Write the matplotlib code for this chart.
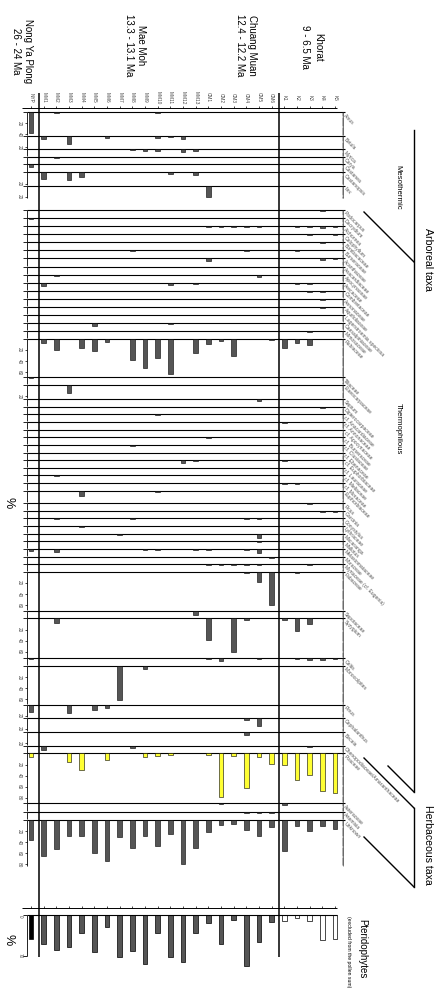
import numpy as np
import matplotlib.pyplot as plt

plt.rcParams['font.family'] = ['Liberation Sans', 'DejaVu Sans']

W, H = 441, 988

# samples (columns) and site headers
SAMPLES = (['NYP'] + ['MM%d' % i for i in range(1, 14)]
           + ['CM%d' % i for i in range(1, 7)] + ['K%d' % i for i in range(1, 6)])
SITES = ['Nong Ya Plong\n26 - 24 Ma', 'Mae Moh\n13.3 - 13.1 Ma',
         'Chuang Muan\n12.4 - 12.2 Ma', 'Khorat\n9 - 6.5 Ma']

# percentages (only non-zero samples listed)
MESO_TAXA = ['Alnus', 'Betula', 'Myrica', 'Carya', 'Castanea', 'Castanopsis', 'Ilex']
MESO_VALUES = [
    {'NYP': 37, 'MM2': 1, 'MM10': 1.5},
    {'MM1': 6, 'MM3': 14, 'MM6': 2.5, 'MM10': 4, 'MM11': 1, 'MM12': 6},
    {'MM8': 1, 'MM9': 2.5, 'MM10': 2.5, 'MM12': 5, 'MM13': 2.5},
    {'MM2': 2},
    {'NYP': 4},
    {'MM1': 11, 'MM3': 14, 'MM4': 8, 'MM11': 3, 'MM13': 5},
    {'CM1': 20, 'K4': 1},
]

THERMO_TAXA = [
    'Podocarpus', 'Dacrydium', 'Alchornea', 'Calophyllum', 'Bombacaceae',
    'Burseraceae', 'Acanthaceae', 'Anacardiaceae', 'Apocynaceae', 'Arecaceae',
    'Combretaceae', 'Annonaceae', 'Aquifoliaceae', 'Lagerstroemia speciosa',
    'Caesalpiniaceae', 'Mimosaceae', 'Rubiaceae', 'Tiliaceae', 'Elaeocarpaceae',
    'Sapium', 'Dipterocarpaceae', 'cf. Anacardiaceae', 'cf. Annonaceae',
    'cf. Apocynaceae', 'cf. Burseraceae', 'cf. Clusiaceae', 'cf. Ebenaceae',
    'cf. Euphorbiaceae', 'cf. Lauraceae', 'cf. Meliaceae', 'cf. Moraceae',
    'Euphorbiaceae', 'Ficus', 'Garcinia', 'Gonystylus', 'Lythraceae',
    'Macaranga', 'Mallotus', 'Melastomataceae', 'Moraceae',
    'Myrtaceae (cf. Eugenia)', 'Fabaceae', 'Sapotaceae', 'Syzygium', 'Celtis',
    'Monocolpites', 'Pinus', 'Cephalanthus', 'Becaia',
]
THERMO_VALUES = [
    {'K4': 1.5},
    {'NYP': 1.5},
    {'CM1': 0.5, 'CM2': 0.5, 'CM3': 0.5, 'CM4': 0.5, 'CM5': 2, 'K2': 0.5, 'K3': 0.5, 'K4': 2.5, 'K5': 2},
    {'K3': 1.5, 'K5': 1.5},
    {'K4': 1.5},
    {'MM8': 1.5, 'CM4': 1.5, 'K2': 1},
    {'CM1': 5, 'K4': 2, 'K5': 1},
    {'MM2': 1.5, 'CM1': 0.5, 'K3': 0.5},
    {'MM2': 2, 'MM4': 1, 'MM8': 1.5, 'MM9': 1, 'CM4': 0.5, 'CM5': 3.5},
    {'MM1': 6.5, 'MM2': 1.5, 'MM11': 3.5, 'MM13': 3, 'CM1': 0.5, 'CM2': 0.5, 'CM3': 0.5,
     'K1': 1.5, 'K2': 2, 'K3': 3},
    {'K3': 1.5, 'K4': 1.5},
    {'K4': 1.5},
    {'K4': 1.5},
    {'CM3': 1},
    {'MM4': 0.5, 'MM5': 6, 'MM11': 1.5, 'CM1': 0.5, 'K1': 0.5, 'K3': 0.5},
    {'K3': 2},
    {'MM1': 6.5, 'MM2': 20, 'MM4': 17, 'MM5': 22, 'MM6': 5.5, 'MM8': 38, 'MM9': 53,
     'MM10': 34, 'MM11': 64, 'MM13': 25, 'CM1': 9, 'CM2': 3, 'CM3': 30, 'CM6': 2,
     'K1': 17, 'K2': 7, 'K3': 11},
    {'NYP': 1.5},
    {'MM3': 15},
    {'MM9': 0.5, 'CM5': 3.5},
    {'K4': 2},
    {'MM10': 1.5},
    {'K1': 1.5},
    {'K4': 1.5},
    {'CM1': 1},
    {'MM8': 1.5},
    {'K2': 0.5, 'K3': 1.5},
    {'MM12': 5, 'MM13': 1.5, 'K1': 1.5},
    {'MM4': 1},
    {'MM2': 1.5},
    {'K1': 1.5, 'K2': 1.5},
    {'MM4': 10, 'MM10': 2, 'CM1': 0.5, 'CM2': 0.5, 'K3': 0.5, 'K4': 0.5},
    {'K3': 1.5},
    {'K4': 1.5, 'K5': 1.5},
    {'MM2': 1.5, 'MM8': 1.5, 'CM4': 1, 'CM5': 1.5},
    {'MM4': 1},
    {'MM2': 1.5, 'MM7': 2, 'MM10': 1.5, 'MM11': 1, 'CM4': 1.5, 'CM5': 8, 'CM6': 1, 'K3': 1.5},
    {'CM5': 1.5},
    {'NYP': 4, 'MM2': 5, 'MM9': 1, 'MM10': 1.5, 'MM13': 1.5, 'CM1': 1, 'CM4': 1.5, 'CM5': 8},
    {'CM6': 3},
    {'CM1': 0.5, 'CM2': 0.5, 'CM3': 0.5, 'CM4': 0.5, 'CM5': 1.5, 'K3': 0.5},
    {'CM4': 2.5, 'CM5': 19, 'CM6': 59, 'K2': 1},
    {'MM8': 1, 'MM9': 1, 'MM13': 8, 'CM1': 1},
    {'MM2': 8.5, 'CM1': 38, 'CM3': 61, 'CM4': 2.5, 'K1': 2, 'K2': 22, 'K3': 10},
    {'NYP': 0.5, 'CM1': 0.5, 'CM2': 5.5, 'CM5': 0.5, 'K2': 0.5, 'K3': 2, 'K4': 2, 'K5': 1.5},
    {'MM7': 62, 'MM9': 5},
    {'NYP': 12.5, 'MM3': 14.5, 'MM5': 8.5, 'MM6': 5.5},
    {'CM4': 4, 'CM5': 15},
    {'CM4': 5, 'CM6': 0.5},
]

HERB_TAXA = ['Chenopodiaceae/Amaranthaceae', 'Poaceae', 'Asteraceae', 'Artemisia', 'Unknown']
HERB_VALUES = [
    {'MM1': 7, 'MM8': 3, 'K3': 1.5},
    {'NYP': 6, 'MM3': 15.5, 'MM4': 30.5, 'MM6': 11, 'MM9': 6, 'MM10': 5, 'MM11': 2.5,
     'CM1': 3, 'CM2': 78, 'CM3': 5, 'CM4': 62.5, 'CM5': 6, 'CM6': 19, 'K1': 21.5,
     'K2': 48.5, 'K3': 39.5, 'K4': 67, 'K5': 71.5},
    {'CM2': 0.5, 'K1': 2},
    {'CM2': 0.5, 'CM3': 0.5, 'CM4': 2, 'CM5': 2, 'CM6': 2},
    {'NYP': 35, 'MM1': 64, 'MM2': 52, 'MM3': 29, 'MM4': 29, 'MM5': 59, 'MM6': 74,
     'MM7': 31, 'MM8': 50, 'MM9': 29, 'MM10': 47, 'MM11': 25, 'MM12': 80, 'MM13': 50,
     'CM1': 22, 'CM2': 9, 'CM3': 6.5, 'CM4': 18.5, 'CM5': 29, 'CM6': 12.5, 'K1': 55,
     'K2': 11, 'K3': 20, 'K4': 11, 'K5': 16},
]

# pteridophytes, one value per sample
PTERIDO = [41.5, 50, 60, 54, 31, 64, 21, 72, 61, 84, 30, 72, 81, 31,
           14, 49.5, 9, 87, 46, 12, 10, 5.7, 11, 43, 41]

# ---- layout (pixels / percent units) ----
X0, DX = 31, 12.67            # pixel of first sample, spacing
LEFT, RIGHT = 27, 343          # panel edges in px
TOP = 112.3
PXPCT = 0.555
MESO_SPAN = [43, 24, 13.3, 13.7, 14.4, 24, 24]
GAP = 20
THERMO_SPAN = ([14.5] * 16 + [69, 14, 25] + [13.8] * 12 + [22] + [13.8] * 9
               + [70, 13.8, 72, 13.8, 70, 23, 26, 25])
HERB_SPAN = [13.5, 90, 15, 15, 84]

BAR = '#555555'
POACEAE = '#ffff33'

fig = plt.figure(figsize=(W / 100, H / 100), dpi=100)
ov = fig.add_axes([0, 0, 1, 1])
ov.set_xlim(0, W)
ov.set_ylim(H, 0)
ov.axis('off')


def px_axes(x0, y0, x1, y1):
    a = fig.add_axes([x0 / W, 1 - y1 / H, (x1 - x0) / W, (y1 - y0) / H])
    a.axis('off')
    return a


# build row list
rows = []
pos = 0.0
for name, vals, span in zip(MESO_TAXA, MESO_VALUES, MESO_SPAN):
    rows.append((name, vals, span, pos))
    pos += span
pos += GAP
for name, vals, span in zip(THERMO_TAXA, THERMO_VALUES, THERMO_SPAN):
    rows.append((name, vals, span, pos))
    pos += span
for name, vals, span in zip(HERB_TAXA, HERB_VALUES, HERB_SPAN):
    rows.append((name, vals, span, pos))
    pos += span
total = pos

ax = px_axes(LEFT, TOP, RIGHT, TOP + total * PXPCT)
xl, xr = (LEFT - X0) / DX, (RIGHT - X0) / DX
ax.set_xlim(xl, xr)
ax.set_ylim(total, 0)

lab_kw = dict(fontsize=3.4, color='#444444', rotation=-90, ha='center', va='center', clip_on=False)

for name, vals, span, top in rows:
    ax.hlines(top, xl, xr + 0.15, color='k', lw=0.8, clip_on=False)
    bot = top + span - 1.2
    ax.vlines(xl, top, bot, color='k', lw=0.6, clip_on=False)
    ax.hlines(top, xl - 0.35, xl, color='k', lw=0.6, clip_on=False)
    for t in range(20, int(span) - 2, 20):
        ax.hlines(top + t, xl - 0.15, xl, color='k', lw=0.5, clip_on=False)
        ax.text(xl - 0.62, top + t, str(t), **lab_kw)
    ax.vlines(xr, top, bot, color='#333333', lw=0.4, clip_on=False)
    tk = np.arange(top + 1.5, bot, 2.0)
    ax.plot(np.full(len(tk), xr), tk, ls='none', marker='_', ms=1.6, mew=0.3,
            color='#333333', clip_on=False)
    ax.text(xr + 0.25, top + 1.2, name, rotation=-45, rotation_mode='anchor',
            ha='left', va='top', fontsize=3.6, color='#555555', clip_on=False)
    xs = [SAMPLES.index(k) for k in vals]
    hs = list(vals.values())
    ax.bar(xs, hs, bottom=top, width=0.36, color=POACEAE if name == 'Poaceae' else BAR,
           edgecolor='k', lw=0.4, clip_on=False, zorder=3)

# sample axis above the diagram
samp_y = (108.3 - TOP) / PXPCT
ax.hlines(samp_y, (22 - X0) / DX, (337 - X0) / DX, color='k', lw=0.7, clip_on=False)
ax.vlines(range(len(SAMPLES)), samp_y - 4, samp_y, color='k', lw=0.5, clip_on=False)
for i, s in enumerate(SAMPLES):
    ax.text(i, (97.5 - TOP) / PXPCT, s, **lab_kw)

# pteridophytes panel
PT_TOP, PT_BOT = 915, 956
pax = px_axes(LEFT, PT_TOP, RIGHT, PT_BOT)
pax.set_xlim(xl, xr)
pax.set_ylim(70, 0)
pt_scale = (PT_BOT - PT_TOP) / 70
ps_y = (908 - PT_TOP) / pt_scale
pax.hlines(ps_y, (22 - X0) / DX, (337 - X0) / DX, color='k', lw=0.7, clip_on=False)
pax.vlines(range(len(SAMPLES)), ps_y - 4, ps_y, color='k', lw=0.5, clip_on=False)
pax.hlines(0, xl, (337 - X0) / DX, color='k', lw=0.8, clip_on=False)
pax.vlines(xl, 0, 70, color='k', lw=0.6, clip_on=False)
pax.hlines([0, 70], xl - 0.35, xl, color='k', lw=0.6, clip_on=False)
pax.text(xl - 0.55, 1.5, '0', **lab_kw)
pax.text(xl - 0.55, 70, '70', **lab_kw)
pcols = ['black'] + [BAR] * 19 + ['white'] * 5
pax.bar(range(len(SAMPLES)), PTERIDO, width=0.36, color=pcols, edgecolor='k',
        lw=0.5, clip_on=False)

# site dividers
ov.vlines([39, 279], 93, 957, color='k', lw=1.1)

# site headers
hdr = [(22, 51), (135, 45), (246, 45.5), (311.5, 47)]
for (hx, hy), s in zip(hdr, SITES):
    ov.text(hx, hy, s, rotation=-90, ha='center', va='center', multialignment='center',
            fontsize=7, linespacing=1.35)

ov.text(8, 503, '%', rotation=-90, ha='center', va='center', fontsize=9)
ov.text(8, 940, '%', rotation=-90, ha='center', va='center', fontsize=9)

# group labels and brackets
ov.text(398, 187, 'Mesothermic', rotation=-90, ha='center', va='center', fontsize=5.6)
ov.text(398, 429, 'Thermophilous', rotation=-90, ha='center', va='center', fontsize=5.6)
ov.text(428, 259, 'Arboreal taxa', rotation=-90, ha='center', va='center', fontsize=7.6)
ov.text(428, 845, 'Herbaceous taxa', rotation=-90, ha='center', va='center', fontsize=7.6)
ov.text(362, 949, 'Pteridophytes', rotation=-90, ha='center', va='center', fontsize=7)
ov.text(348.5, 916, '(excluded from the pollen sum)', rotation=-90, ha='center', va='top',
        fontsize=3.7)

line_kw = dict(color='k', lw=1.0)
ov.plot([414, 414], [130, 792], **line_kw)
ov.plot([364, 414], [212, 262], **line_kw)
ov.plot([388, 414], [766, 792], **line_kw)
ov.plot([364, 414], [758, 808], **line_kw)
ov.plot([414, 414], [808, 887], **line_kw)
ov.plot([364, 414], [837, 887], **line_kw)

fig.savefig('out.png', dpi=100)
